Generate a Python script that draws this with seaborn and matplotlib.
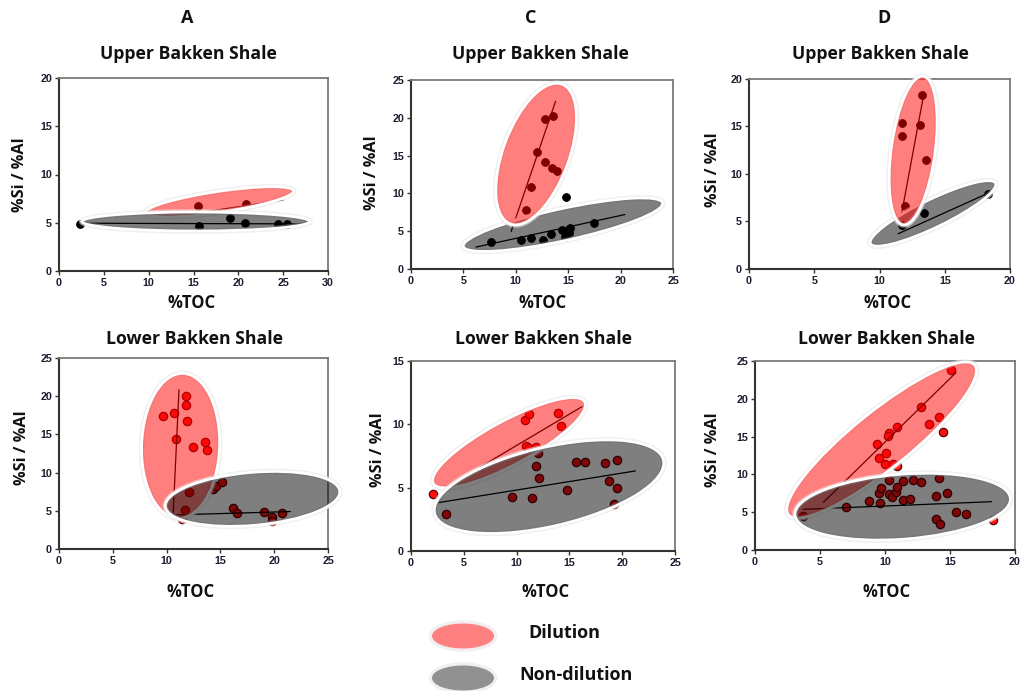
import matplotlib
matplotlib.use("Agg")
import matplotlib.pyplot as plt
import seaborn as sns
import pandas as pd
from matplotlib.patches import Ellipse
from matplotlib.transforms import ScaledTranslation

# ---------------- data ----------------
column_labels = ["A", "C", "D"]
unit_labels = ["Upper Bakken Shale", "Lower Bakken Shale"]

# Upper Bakken Shale
upper_a_toc = [2.35, 15.56, 19.1, 20.7, 24.4, 25.4, 15.45, 20.8]
upper_a_sial = [4.82, 4.71, 5.5, 4.96, 4.85, 4.92, 6.76, 6.9]

upper_c_toc = [11.0, 11.47, 12.0, 12.79, 12.79, 13.57, 13.45, 13.9,
               7.62, 10.53, 11.47, 12.6, 13.35, 14.42, 14.67, 15.08, 15.2, 14.76, 17.46]
upper_c_sial = [7.8, 10.8, 15.46, 19.9, 14.2, 20.2, 13.3, 12.95,
                3.61, 3.88, 4.14, 3.83, 4.58, 5.2, 4.27, 4.8, 5.42, 9.56, 6.12]

upper_d_toc = [13.25, 11.69, 11.76, 13.09, 13.53, 11.94, 13.43, 18.34, 11.69]
upper_d_sial = [18.35, 15.41, 14.0, 15.17, 11.49, 6.58, 5.92, 7.92, 4.62]

# Lower Bakken Shale
lower_a_toc = [9.69, 10.71, 11.76, 11.76, 11.86, 10.87, 12.41, 13.56, 13.78,
               12.07, 14.27, 14.58, 15.14, 11.73, 11.39, 16.19, 16.53, 19.04, 19.81, 19.75, 20.68]
lower_a_sial = [17.35, 17.79, 20.06, 18.79, 16.74, 14.38, 13.33, 13.99, 12.98,
                7.52, 7.82, 8.26, 8.83, 5.11, 3.89, 5.33, 4.76, 4.85, 4.24, 3.67, 4.68]

lower_c_toc = [2.04, 10.82, 11.22, 13.92, 14.23, 10.85, 11.22, 11.85, 12.0, 11.85,
               3.29, 9.59, 11.47, 12.1, 14.76, 15.67, 16.49, 18.34, 19.47, 18.75, 19.47, 19.25]
lower_c_sial = [4.5, 10.34, 10.82, 10.89, 9.87, 8.29, 8.1, 8.18, 7.76, 6.71,
                2.92, 4.26, 4.18, 5.74, 4.79, 7.03, 7.05, 6.97, 7.18, 5.55, 4.97, 3.74]

lower_d_toc = [15.05, 12.77, 13.41, 14.15, 10.9, 10.33, 10.26, 9.36, 10.08, 9.56, 9.97, 10.59,
               14.49, 10.9, 3.67, 7.0, 8.77, 9.62, 9.56, 9.72, 10.33, 10.33, 10.51, 10.85,
               10.95, 11.36, 11.41, 11.92, 12.18, 12.77, 14.13, 13.92, 14.74, 13.92, 14.23,
               15.44, 16.21, 18.33]
lower_d_sial = [23.77, 18.96, 16.67, 17.55, 16.31, 15.52, 15.12, 13.98, 12.79, 12.13, 11.42, 11.33,
                15.6, 11.1, 4.5, 5.64, 6.44, 6.17, 7.58, 8.16, 9.21, 7.36, 7.05, 7.67,
                8.29, 6.61, 9.13, 6.79, 9.26, 9.04, 9.48, 7.14, 7.58, 4.1, 3.4,
                5.03, 4.76, 3.97]

# trend lines (x pair, y pair) for the dilution and non-dilution groups
upper_a_trend_dil = [[13.5, 25.0], [5.75, 7.35]]
upper_a_trend_non = [[2.7, 27.6], [4.95, 4.88]]
upper_c_trend_dil = [[9.56, 13.8], [4.98, 22.2]]
upper_c_trend_non = [[6.2, 20.4], [2.9, 7.2]]
upper_d_trend_dil = [[11.69, 13.35], [5.81, 18.07]]
upper_d_trend_non = [[11.43, 18.34], [3.71, 7.99]]
lower_a_trend_dil = [[10.6, 11.15], [4.24, 20.85]]
lower_a_trend_non = [[10.6, 21.5], [4.46, 4.9]]
lower_c_trend_dil = [[6.5, 16.2], [6.6, 11.4]]
lower_c_trend_non = [[2.6, 21.25], [3.82, 6.32]]
lower_d_trend_dil = [[5.26, 15.46], [6.3, 23.46]]
lower_d_trend_non = [[3.72, 18.2], [5.38, 6.39]]

legend_labels = ["Dilution", "Non-dilution"]

# ---------------- style ----------------
sns.set_theme(style="white")
plt.rcParams["font.family"] = ["Open Sans", "DejaVu Sans"]
plt.rcParams["font.weight"] = "bold"

W, H = 1021, 691
fig = plt.figure(figsize=(W / 100, H / 100), dpi=100)


def frac(x, y):
    return x / W, 1 - y / H


def add_panel(left, right, top, bottom):
    return fig.add_axes([left / W, 1 - bottom / H, (right - left) / W, (bottom - top) / H])


RED = (1.0, 0.0, 0.0)
GREY = (0.0, 0.0, 0.0)


def region(ax, cx, cy, w_px, h_px, angle, color, z):
    """Translucent outlined region centred on a data point, sized in pixels."""
    tr = fig.dpi_scale_trans + ScaledTranslation(cx, cy, ax.transData)
    halo = Ellipse((0, 0), w_px / 100, h_px / 100, angle=angle, transform=tr,
                   facecolor="none", edgecolor="#e6e6e6", lw=4.0, alpha=0.6,
                   zorder=z - 0.2, clip_on=False)
    body = Ellipse((0, 0), w_px / 100, h_px / 100, angle=angle, transform=tr,
                   facecolor=color + (0.5,), edgecolor="white", lw=2.0,
                   zorder=z, clip_on=False)
    ax.add_patch(halo)
    ax.add_patch(body)


panels = [
    # (toc, sial, trend_dil, trend_non, xmax, ymax, box, point style,
    #  red region, grey region, red drawn above grey)
    (upper_a_toc, upper_a_sial, upper_a_trend_dil, upper_a_trend_non, 30, 20,
     (59, 328, 78, 271), "black", (17.9, 7.17, 150, 21, 8.4), (15.26, 5.13, 228, 19, 0), False),
    (upper_c_toc, upper_c_sial, upper_c_trend_dil, upper_c_trend_non, 25, 25,
     (411, 673, 80, 269), "black", (11.94, 15.2, 149, 66, 69.7), (14.5, 5.86, 204, 32, 12.3), True),
    (upper_d_toc, upper_d_sial, upper_d_trend_dil, upper_d_trend_non, 20, 20,
     (749, 1010, 79, 269), "black", (12.58, 12.47, 150, 44, 82.3), (14.1, 5.85, 139, 28, 25.8), True),
    (lower_a_toc, lower_a_sial, lower_a_trend_dil, lower_a_trend_non, 25, 25,
     (59, 328, 358, 549), "red", (11.3, 13.5, 145, 78, 88), (17.99, 6.56, 175, 53, 5), False),
    (lower_c_toc, lower_c_sial, lower_c_trend_dil, lower_c_trend_non, 25, 15,
     (411, 675, 361, 551), "red", (9.28, 8.55, 172, 44, 28.3), (13.07, 5.08, 235, 79, 13.1), False),
    (lower_d_toc, lower_d_sial, lower_d_trend_dil, lower_d_trend_non, 20, 25,
     (755, 1015, 361, 550), "red", (9.74, 14.55, 239, 57, 38.8), (11.36, 5.73, 216, 65, 4.4), False),
]

TICK_COLOR = "#1c1c30"

for toc, sial, tdil, tnon, xmax, ymax, box, pstyle, red_reg, grey_reg, red_top in panels:
    ax = add_panel(*box)
    ax.set_xlim(0, xmax)
    ax.set_ylim(0, ymax)
    df = pd.DataFrame({"toc": toc, "sial": sial})
    if pstyle == "black":
        sns.scatterplot(data=df, x="toc", y="sial", ax=ax, color="black", s=32,
                        edgecolor="black", linewidth=0.6, zorder=2, clip_on=False)
    else:
        sns.scatterplot(data=df, x="toc", y="sial", ax=ax, color="#ff1010", s=36,
                        edgecolor="#5a0000", linewidth=0.9, zorder=2, clip_on=False)
    for tx, ty in (tdil, tnon):
        sns.lineplot(x=tx, y=ty, ax=ax, color="black", lw=0.9, zorder=2.5,
                     estimator=None, sort=False)
    if red_top:
        region(ax, *red_reg, RED, 3.5)
        region(ax, *grey_reg, GREY, 3)
    else:
        region(ax, *red_reg, RED, 3)
        region(ax, *grey_reg, GREY, 3.5)

    ax.set_xticks(range(0, xmax + 1, 5))
    ax.set_yticks(range(0, ymax + 1, 5))
    ax.set_xlabel("")
    ax.set_ylabel("")
    ax.tick_params(axis="both", which="major", direction="out", length=3, width=1,
                   color="#333333", labelsize=7.7, labelcolor=TICK_COLOR, pad=2,
                   bottom=True, left=True)
    for lab in ax.get_xticklabels() + ax.get_yticklabels():
        lab.set_fontweight("bold")
        lab.set_family(["Liberation Sans", "DejaVu Sans"])
    for side in ("left", "bottom"):
        ax.spines[side].set_color("#333333")
        ax.spines[side].set_linewidth(1.5)
    for side in ("top", "right"):
        ax.spines[side].set_color("#7a7a7a")
        ax.spines[side].set_linewidth(1.3)

# ---------------- labels ----------------
title_kw = dict(ha="center", va="center", fontweight="bold", color="#111111")

for lab, x in zip(column_labels, (187, 531, 884)):
    fig.text(*frac(x, 18), lab, fontsize=13, **title_kw)

for x in (188, 540, 880):
    fig.text(*frac(x, 54), unit_labels[0], fontsize=12.7, **title_kw)
for x in (194, 543, 886):
    fig.text(*frac(x, 339), unit_labels[1], fontsize=12.7, **title_kw)

for x in (192, 543, 888):
    fig.text(*frac(x, 303), "%TOC", fontsize=12, **title_kw)
for x in (191, 546, 887):
    fig.text(*frac(x, 592), "%TOC", fontsize=12, **title_kw)

for x, y in ((20, 175), (372, 173), (713, 170), (22, 448), (378, 450), (713, 450)):
    fig.text(*frac(x, y), "%Si / %Al", fontsize=11.7, rotation=90, **title_kw)

# ---------------- legend ----------------
leg_colors = [(1.0, 0.5, 0.5), (0.57, 0.57, 0.57)]
for lab, col, y, tx in zip(legend_labels, leg_colors, (636, 678), (564, 576)):
    cx, cy = frac(463, y)
    fig.patches.append(Ellipse((cx, cy), 65 / W, 28 / H, transform=fig.transFigure,
                               facecolor="none", edgecolor="#f0f0f0", lw=2.5))
    fig.patches.append(Ellipse((cx, cy), 62 / W, 25 / H, transform=fig.transFigure,
                               facecolor=col, edgecolor="none"))
    fig.text(*frac(tx, y - 3), lab, fontsize=13, **title_kw)

fig.savefig("out.png", dpi=100)
